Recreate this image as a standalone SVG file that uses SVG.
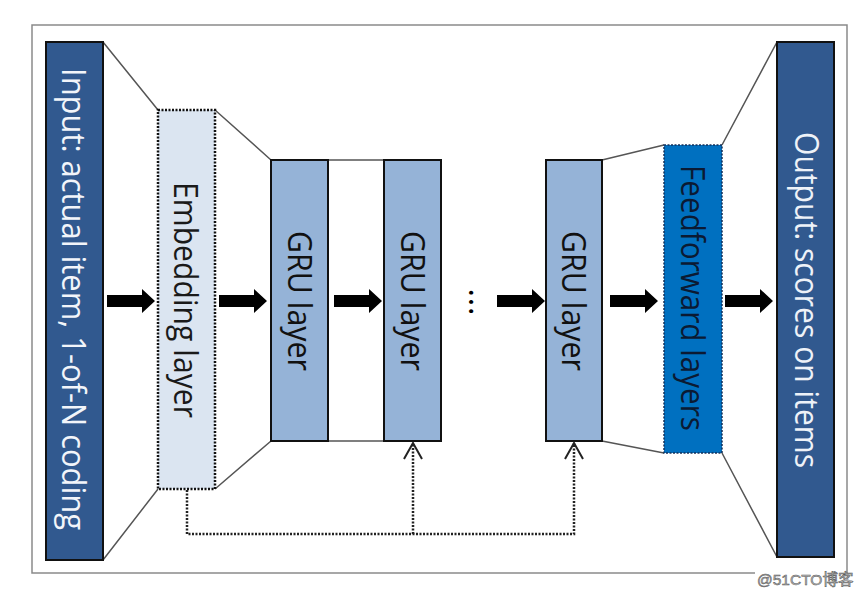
<svg xmlns="http://www.w3.org/2000/svg" width="864" height="595" viewBox="0 0 864 595">
<style>
.lbl{font-family:"Open Sans","Liberation Sans",sans-serif;font-size:32px;text-anchor:middle}
.box{stroke:#111;stroke-width:2}
.dotbox{stroke:#111;stroke-width:2.5;stroke-dasharray:2 1.5}
.edge{stroke:#555;stroke-width:1.5;fill:none}
.fb{stroke:#222;stroke-width:2.5;fill:none;stroke-dasharray:2 1.5}
</style>
<defs>
<path id="blk" d="M0 -6 H35 V-12 L48 0 L35 12 V6 H0 Z" fill="#000"/>
<marker id="chev" markerUnits="userSpaceOnUse" viewBox="0 0 20 20" refX="18" refY="10" markerWidth="20" markerHeight="20" orient="auto">
<path d="M2 1 L18 10 L2 19" fill="none" stroke="#222" stroke-width="2" stroke-dasharray="none"/>
</marker>
</defs>
<rect width="864" height="595" fill="#fff"/>
<path d="M755 573 H32 V25 H847 V573" fill="none" stroke="#8a8a8a" stroke-width="1.5"/>
<g id="frustums">
<path class="edge" d="M103 42 L158 110 M103 560 L158 489 M215 110 L271 160 M215 489 L271 441 M328 160 H384 M328 441 H384 M602 160 L664 145 M602 441 L664 453 M722 145 L777 42 M722 453 L777 557"/>
</g>
<g id="input">
<rect class="box" x="46" y="42" width="57" height="518" fill="#31598f"/>
<text class="lbl" transform="translate(74.5,299) rotate(90)" y="13" fill="#f2f5fa" textLength="462" lengthAdjust="spacingAndGlyphs">Input: actual item, 1-of-N coding</text>
</g>
<g id="embedding">
<rect class="dotbox" x="158" y="110" width="57" height="379" fill="#dbe5f1"/>
<text class="lbl" transform="translate(186.5,300) rotate(90)" y="13" fill="#1a1a1a" textLength="236" lengthAdjust="spacingAndGlyphs">Embedding layer</text>
</g>
<g id="gru1">
<rect class="box" x="271" y="160" width="57" height="281" fill="#95b3d7"/>
<text class="lbl" transform="translate(299.5,301) rotate(90)" y="12" fill="#111" textLength="140" lengthAdjust="spacingAndGlyphs">GRU layer</text>
</g>
<g id="gru2">
<rect class="box" x="384" y="160" width="57" height="281" fill="#95b3d7"/>
<text class="lbl" transform="translate(412.5,301) rotate(90)" y="12" fill="#111" textLength="140" lengthAdjust="spacingAndGlyphs">GRU layer</text>
</g>
<g id="dots">
<text class="lbl" transform="translate(471,302) rotate(90)" y="2.5" fill="#000" textLength="27" lengthAdjust="spacing">...</text>
</g>
<g id="gru3">
<rect class="box" x="546" y="160" width="56" height="281" fill="#95b3d7"/>
<text class="lbl" transform="translate(574,301) rotate(90)" y="12" fill="#111" textLength="140" lengthAdjust="spacingAndGlyphs">GRU layer</text>
</g>
<g id="feedforward">
<rect x="664" y="145" width="58" height="308" fill="#0070c0" stroke="#14305a" stroke-width="1.5" stroke-dasharray="2 1.5"/>
<text class="lbl" transform="translate(693,298) rotate(90)" y="12" fill="#0b1a33" textLength="266" lengthAdjust="spacingAndGlyphs">Feedforward layers</text>
</g>
<g id="output">
<rect class="box" x="777" y="42" width="57" height="515" fill="#31598f"/>
<text class="lbl" transform="translate(805.5,300) rotate(90)" y="11" fill="#eef2f8" textLength="336" lengthAdjust="spacingAndGlyphs">Output: scores on items</text>
</g>
<g id="connectors">
<use href="#blk" x="107" y="301"/>
<use href="#blk" x="219" y="301"/>
<use href="#blk" x="334" y="301"/>
<use href="#blk" x="497" y="301"/>
<use href="#blk" x="610" y="301"/>
<use href="#blk" x="725" y="301"/>
<path class="fb" d="M187 490 V534 H574 V443" marker-end="url(#chev)"/>
<path class="fb" d="M413 534 V443" marker-end="url(#chev)"/>
</g>
<text x="757" y="585" font-family="Liberation Sans,Noto Sans CJK SC,sans-serif" font-size="15.5" fill="#b8b8b8" stroke="#555" stroke-width="0.5">@51CTO博客</text>
</svg>
